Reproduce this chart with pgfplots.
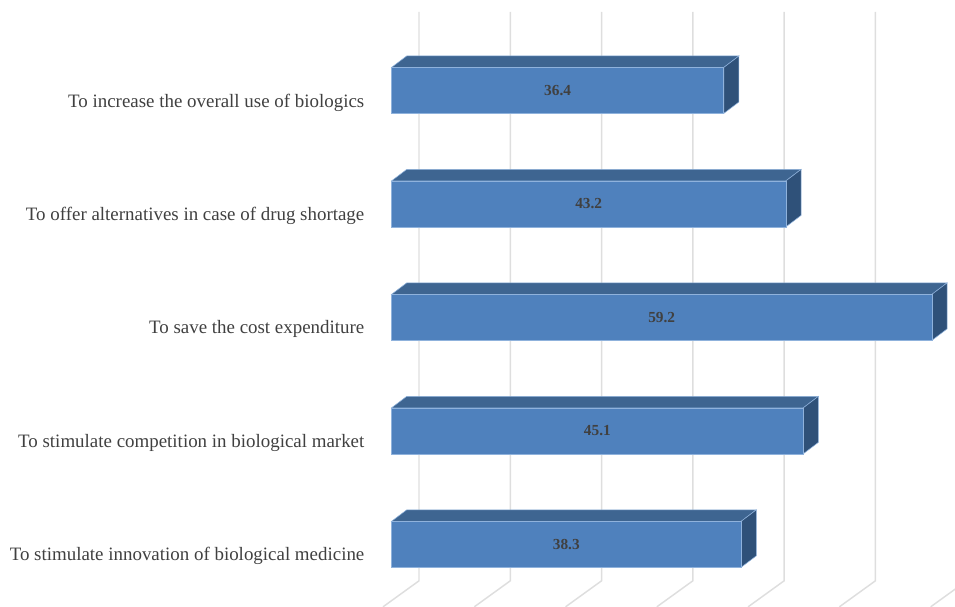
\documentclass[border=0pt]{standalone}
\usepackage{fontspec}
\setmainfont{Liberation Serif}
\usepackage{pgfplots}
\pgfplotsset{compat=1.18}
\definecolor{barfront}{HTML}{4F81BD}
\definecolor{bartop}{HTML}{3E6591}
\definecolor{barside}{HTML}{2F5179}
\definecolor{baredge}{HTML}{8FB2DC}
\definecolor{gridgrey}{HTML}{DEDEDE}
\definecolor{labelgrey}{HTML}{404040}
\begin{document}
\begin{tikzpicture}
\begin{axis}[
    scale only axis,
    width=716.25pt, height=455.25pt,
    at={(0,0)}, anchor=south west,
    xmin=-42.88, xmax=61.72,
    ymin=-0.5507, ymax=4.797,
    axis line style={draw=none},
    xtick=\empty,
    ytick={0,1,2,3,4},
    yticklabels={To stimulate innovation of biological medicine,
        To stimulate competition in biological market,
        To save the cost expenditure,
        To offer alternatives in case of drug shortage,
        To increase the overall use of biologics},
    major tick length=0pt,
    yticklabel style={anchor=east, xshift=276.75pt, yshift=-9pt, font=\fontsize{14.2}{16}\selectfont, text=labelgrey},
    clip=true,
]
% back wall gridlines, running onto the floor
\addplot[gridgrey, line width=1.1pt, unbounded coords=jump] coordinates {
    (3.01,4.692) (3.01,-0.3216) (-0.93,-0.5507) (3.01,nan)
    (13.01,4.692) (13.01,-0.3216) (9.07,-0.5507) (13.01,nan)
    (23.01,4.692) (23.01,-0.3216) (19.07,-0.5507) (23.01,nan)
    (33.01,4.692) (33.01,-0.3216) (29.07,-0.5507) (33.01,nan)
    (43.01,4.692) (43.01,-0.3216) (39.07,-0.5507) (43.01,nan)
    (53.01,4.692) (53.01,-0.3216) (49.07,-0.5507) (53.01,nan)
    (63.01,4.692) (63.01,-0.3216) (59.07,-0.5507)
};
% top faces
\addplot[fill=bartop, draw=baredge, line width=0.4pt] coordinates {(0,4.2026) (36.4,4.2026) (38.065,4.304) (1.665,4.304)} -- cycle;
\addplot[fill=bartop, draw=baredge, line width=0.4pt] coordinates {(0,3.2026) (43.2,3.2026) (44.865,3.304) (1.665,3.304)} -- cycle;
\addplot[fill=bartop, draw=baredge, line width=0.4pt] coordinates {(0,2.2026) (59.2,2.2026) (60.865,2.304) (1.665,2.304)} -- cycle;
\addplot[fill=bartop, draw=baredge, line width=0.4pt] coordinates {(0,1.2026) (45.1,1.2026) (46.765,1.304) (1.665,1.304)} -- cycle;
\addplot[fill=bartop, draw=baredge, line width=0.4pt] coordinates {(0,0.2026) (38.3,0.2026) (39.965,0.304) (1.665,0.304)} -- cycle;
% side faces
\addplot[fill=barside, draw=baredge, line width=0.4pt] coordinates {(36.4,4.2026) (38.065,4.304) (38.065,3.8987) (36.4,3.7974)} -- cycle;
\addplot[fill=barside, draw=baredge, line width=0.4pt] coordinates {(43.2,3.2026) (44.865,3.304) (44.865,2.8987) (43.2,2.7974)} -- cycle;
\addplot[fill=barside, draw=baredge, line width=0.4pt] coordinates {(59.2,2.2026) (60.865,2.304) (60.865,1.8987) (59.2,1.7974)} -- cycle;
\addplot[fill=barside, draw=baredge, line width=0.4pt] coordinates {(45.1,1.2026) (46.765,1.304) (46.765,0.8987) (45.1,0.7974)} -- cycle;
\addplot[fill=barside, draw=baredge, line width=0.4pt] coordinates {(38.3,0.2026) (39.965,0.304) (39.965,-0.1013) (38.3,-0.2026)} -- cycle;
% front faces
\addplot[xbar, bar width=34.5pt, bar shift=0pt, fill=barfront, draw=baredge, line width=0.4pt] coordinates {
    (36.4,4) (43.2,3) (59.2,2) (45.1,1) (38.3,0)
};
% value labels, centred on each bar
\addplot[draw=none, mark=none, nodes near coords, nodes near coords align=center,
    point meta=explicit symbolic,
    every node near coord/.append style={font=\fontsize{11.5}{13}\selectfont\bfseries, text=labelgrey}]
    coordinates {
    (18.2,4) [36.4]
    (21.6,3) [43.2]
    (29.6,2) [59.2]
    (22.55,1) [45.1]
    (19.15,0) [38.3]
};
\end{axis}
\end{tikzpicture}
\end{document}
